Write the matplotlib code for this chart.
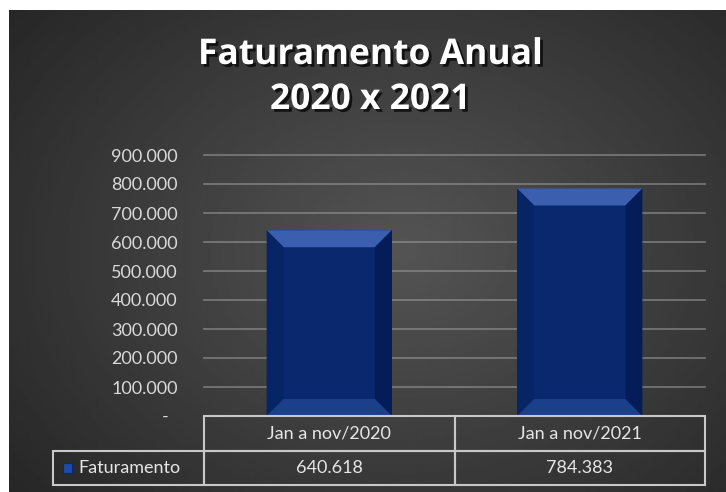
import numpy as np
import matplotlib
matplotlib.use('Agg')
import matplotlib.pyplot as plt
import matplotlib.patheffects as pe
from matplotlib.patches import Polygon, Rectangle

plt.rcParams['font.family'] = ['Lato', 'DejaVu Sans']

# Data
categories = ['Jan a nov/2020', 'Jan a nov/2021']
faturamento = [640618, 784383]
series_name = 'Faturamento'
y_ticks = [0, 100000, 200000, 300000, 400000, 500000, 600000, 700000, 800000, 900000]
title_lines = ['Faturamento Anual', '2020 x 2021']


def fmt_br(v):
    # Excel accounting style: thousands with dots, zero as dash
    if v == 0:
        return '-  '
    return f'{v:,.0f}'.replace(',', '.')


W, H = 726, 492
fig = plt.figure(figsize=(W / 100, H / 100), dpi=100, facecolor='white')

# Dark radial gradient background
bg = fig.add_axes([9 / W, 0, (W - 9) / W, (H - 10) / H])
yy, xx = np.mgrid[0:1:241j, 0:1:358j]
r = np.clip(np.sqrt(((xx - 0.55) / 0.75) ** 2 + ((yy - 0.5) / 0.85) ** 2), 0, 1)
shade = 0.33 - 0.19 * r
bg.imshow(shade, cmap='gray', vmin=0, vmax=1, extent=[0, 1, 0, 1],
          aspect='auto', origin='upper', interpolation='bilinear')
bg.axis('off')

# Plot area
ax_l, ax_r, ax_t, ax_b = 204, 705, 155, 416
pw, ph = ax_r - ax_l, ax_b - ax_t
ax = fig.add_axes([ax_l / W, 1 - ax_b / H, pw / W, ph / H])
ax.patch.set_alpha(0)
x = np.arange(len(categories))
bars = ax.bar(x, faturamento, width=0.5, color='#0a286e', zorder=3)
ax.set_xlim(-0.5, len(categories) - 0.5)
ax.set_ylim(0, 900000)
ax.set_yticks(y_ticks)
ax.set_yticklabels([fmt_br(v) for v in y_ticks])
ax.yaxis.grid(True, color='#9a9a9a', lw=1.3, alpha=0.6)
ax.set_axisbelow(True)
ax.tick_params(axis='y', length=0, pad=19, labelcolor='#d9d9d9', labelsize=13)
ax.set_xticks([])
for s in ax.spines.values():
    s.set_visible(False)
for gl in ax.yaxis.get_gridlines():
    gl.set_clip_on(False)

# Bevel on the bars (about 17 px)
dx = 17 / pw * len(categories)
dy = 17 / ph * 900000
for b in bars:
    x0 = b.get_x()
    x1 = x0 + b.get_width()
    h = b.get_height()
    faces = [
        ([(x0, h), (x1, h), (x1 - dx, h - dy), (x0 + dx, h - dy)], '#3b5eae'),
        ([(x0, 0), (x0, h), (x0 + dx, h - dy), (x0 + dx, dy)], '#072465'),
        ([(x1, 0), (x1, h), (x1 - dx, h - dy), (x1 - dx, dy)], '#041d58'),
        ([(x0, 0), (x1, 0), (x1 - dx, dy), (x0 + dx, dy)], '#1c3f8c'),
    ]
    for pts, c in faces:
        ax.add_patch(Polygon(pts, closed=True, facecolor=c, edgecolor='none', zorder=4))

# Data table below the plot (drawn in axes coordinates)
edge = '#c8c8c8'
txt_color = '#e6e6e6'
lab_left = 53
hdr_bot, row_bot = 451, 485
to_ax = lambda px, py: ((px - ax_l) / pw, (ax_b - py) / ph)


def cell(px0, py0, px1, py1):
    (x0, y1), (x1, y0) = to_ax(px0, py0), to_ax(px1, py1)
    ax.add_patch(Rectangle((x0, y0), x1 - x0, y1 - y0, transform=ax.transAxes,
                           facecolor='none', edgecolor=edge, lw=1.5,
                           clip_on=False, zorder=5))


col_w = pw / len(categories)
for j, cat in enumerate(categories):
    c0 = ax_l + j * col_w
    cell(c0, ax_b, c0 + col_w, hdr_bot)
    cell(c0, hdr_bot, c0 + col_w, row_bot)
    ax.text(*to_ax(c0 + col_w / 2, (ax_b + hdr_bot) / 2), cat, transform=ax.transAxes,
            ha='center', va='center', color=txt_color, fontsize=13, clip_on=False)
    ax.text(*to_ax(c0 + col_w / 2, (hdr_bot + row_bot) / 2), fmt_br(faturamento[j]),
            transform=ax.transAxes, ha='center', va='center', color=txt_color,
            fontsize=13, clip_on=False)
cell(lab_left, hdr_bot, ax_l, row_bot)
ax.text(*to_ax(78, (hdr_bot + row_bot) / 2), series_name, transform=ax.transAxes,
        ha='left', va='center', color=txt_color, fontsize=13, clip_on=False)

# Legend key inside the table
kx, ky = to_ax(63, 473)
ax.add_patch(Rectangle((kx, ky), 9 / pw, 10 / ph, transform=ax.transAxes,
                       facecolor='#1f4aa8', edgecolor='#0a286e', lw=0.8,
                       clip_on=False, zorder=5))

# Title with shadow
shadow = [pe.withSimplePatchShadow(offset=(2, -2), shadow_rgbFace='black', alpha=0.7)]
for i, line in enumerate(title_lines):
    fig.text(370 / W, 1 - (55 + 45 * i) / H, line, ha='center', va='center',
             family=['Open Sans', 'DejaVu Sans'], fontsize=25.5, fontweight='bold',
             color='white', path_effects=shadow)

fig.savefig('out.png', dpi=100, facecolor=fig.get_facecolor())
